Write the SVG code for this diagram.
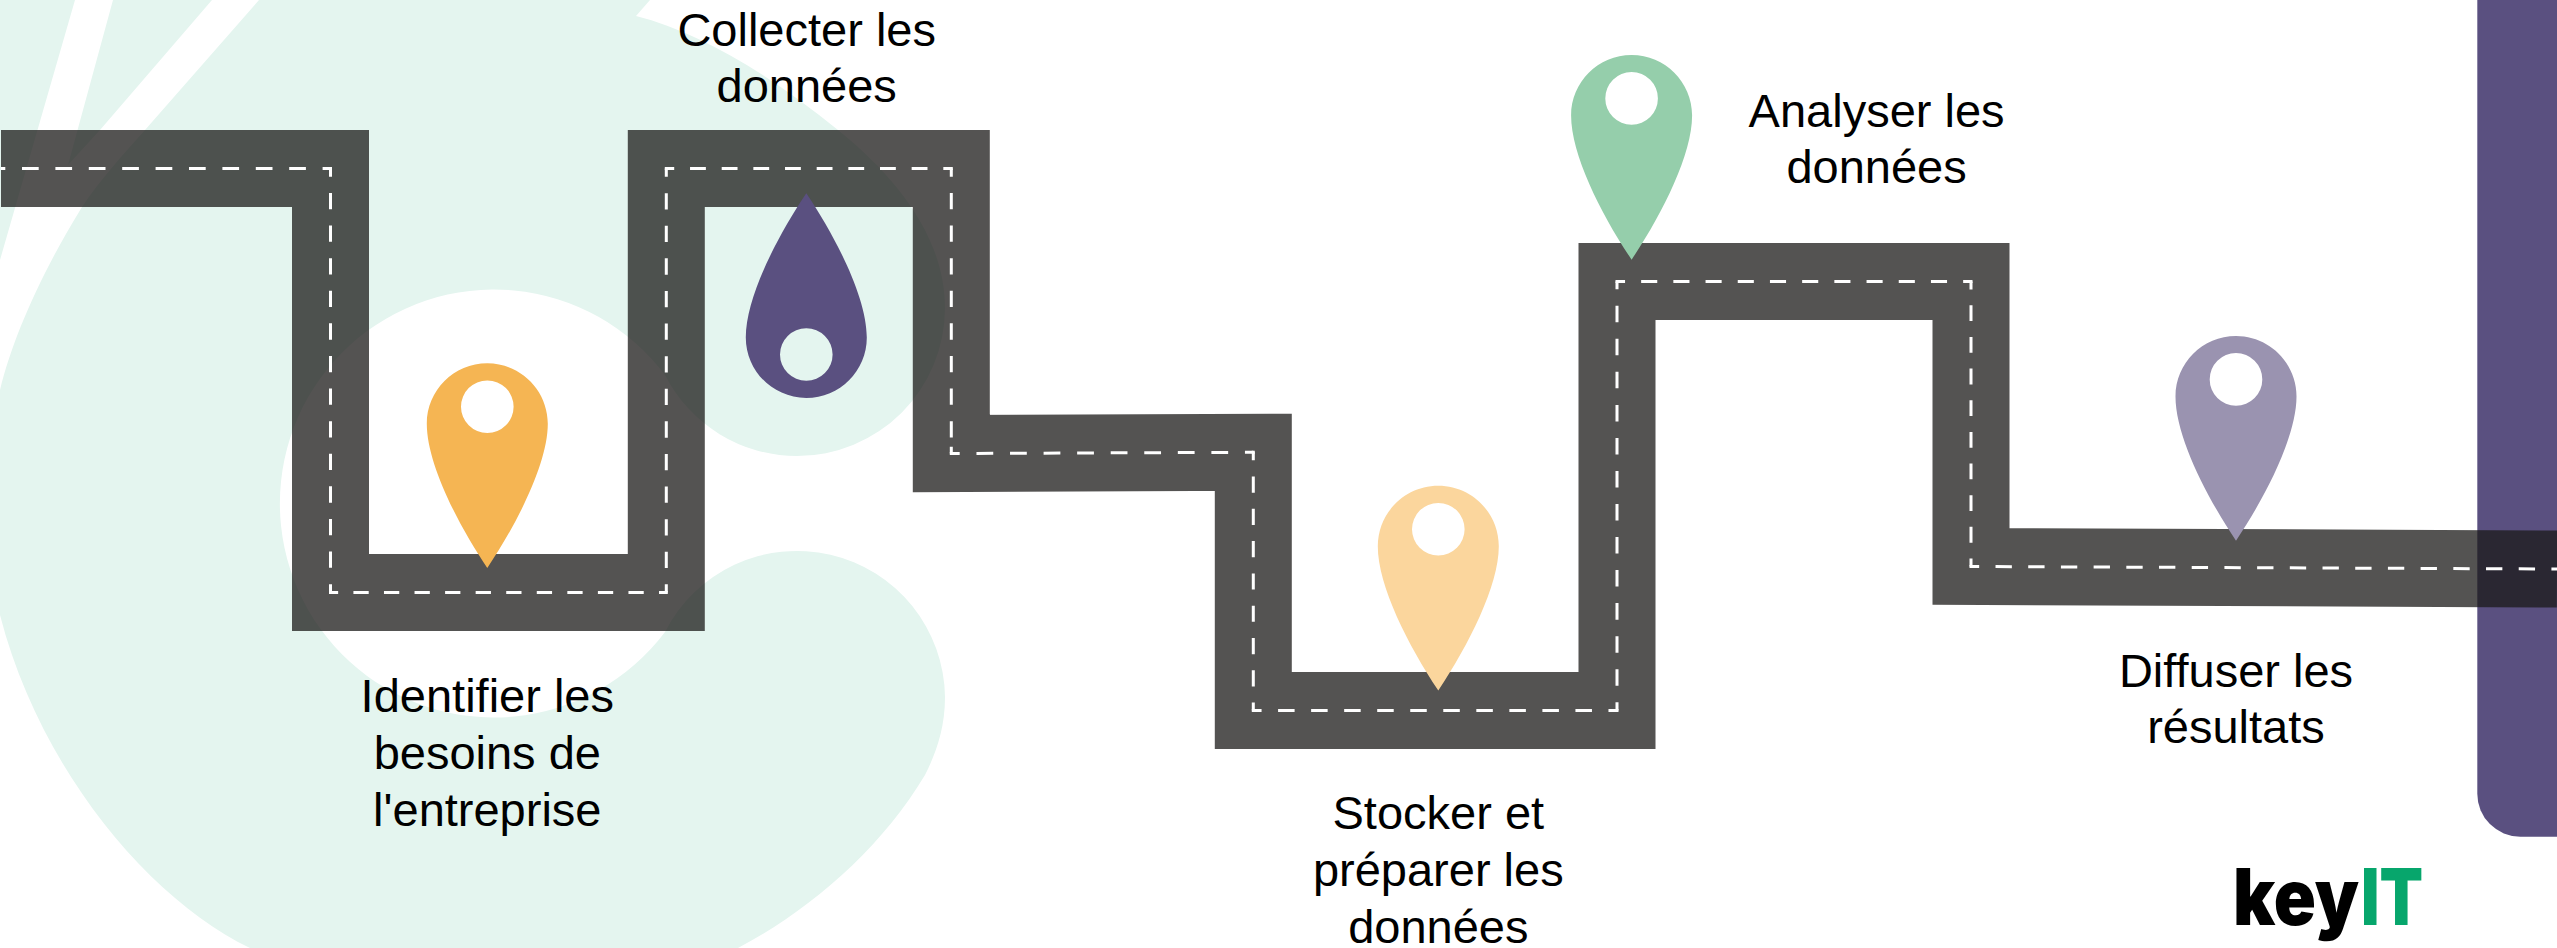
<svg xmlns="http://www.w3.org/2000/svg" xmlns:xlink="http://www.w3.org/1999/xlink" width="2557" height="948" viewBox="0 0 2557 948">
<style>
text{font-family:"Liberation Sans",Arial,sans-serif;font-size:47px;fill:#000;text-anchor:middle}
.road{fill:none;stroke:#1b1a18;stroke-opacity:.75;stroke-width:77;stroke-linejoin:miter}
.dash{fill:none;stroke:#fff;stroke-width:3}
text.logo{font-family:Inter,"Liberation Sans",sans-serif;font-weight:900;font-size:78px;text-anchor:start}
</style>
<defs>
<path id="pin" fill-rule="evenodd" d="M0 0C33.4 0 60.5 27.1 60.5 60.5C60.5 100 30 160 0 204.7C-30 160 -60.5 100 -60.5 60.5C-60.5 27.1 -33.4 0 0 0ZM0 17.1A26.3 26.3 0 1 0 0 69.7A26.3 26.3 0 1 0 0 17.1Z"/>
</defs>
<rect width="2557" height="948" fill="#fff"/>
<g id="background">
<path fill="#e4f5ef" d="M0 0H75L0 260ZM113 0H212L100 130L68 165ZM259 0H650L636 16C700 32 770 75 838 130C900 180 945 240 945 308A148 148 0 0 1 797 456A148 148 0 0 1 665 375A214 214 0 1 0 665 632A148 148 0 0 1 945 697C945 730 935 755 925 775C880 850 810 910 738 948H250C150 900 40 770 0 615V390C12 340 40 275 82 207C100 180 120 158 145 130Z"/>
<rect x="2477.3" y="-60" width="200" height="896.7" rx="43" fill="#5a5080"/>
</g>
<g id="connectors">
<path class="road" d="M1 168.5H330.5V592.5H666.3V168.5H951.3V453.5L1253.3 452.3V710.5H1617V281.5H1971V566.5L2557 569"/>
<path class="dash" stroke-dasharray="16.7 16.7" stroke-dashoffset="12.4" d="M1 168.5H330.5"/>
<path class="dash" stroke-dasharray="16.3 16.3" stroke-dashoffset="8.15" d="M330.5 168.5V592.5"/>
<path class="dash" stroke-dasharray="15.28 15.28" stroke-dashoffset="7.64" d="M330.5 592.5H666.3"/>
<path class="dash" stroke-dasharray="16.3 16.3" stroke-dashoffset="8.15" d="M666.3 592.5V168.5"/>
<path class="dash" stroke-dasharray="15.83 15.83" stroke-dashoffset="7.92" d="M666.3 168.5H951.3"/>
<path class="dash" stroke-dasharray="16.3 16.3" stroke-dashoffset="8.15" d="M951.3 168.5V438M951.3 446.7V453.5"/>
<path class="dash" stroke-dasharray="16.78 16.78" stroke-dashoffset="8.39" d="M951.3 453.5L1253.3 452.3"/>
<path class="dash" stroke-dasharray="16.15 16.15" stroke-dashoffset="8.08" d="M1253.3 452.3V710.5"/>
<path class="dash" stroke-dasharray="16.52 16.52" stroke-dashoffset="8.26" d="M1253.3 710.5H1617"/>
<path class="dash" stroke-dasharray="16.52 16.52" stroke-dashoffset="8.26" d="M1617 710.5V281.5"/>
<path class="dash" stroke-dasharray="16.1 16.1" stroke-dashoffset="8.05" d="M1617 281.5H1971"/>
<path class="dash" stroke-dasharray="15.83 15.83" stroke-dashoffset="7.92" d="M1971 281.5V566.5"/>
<path class="dash" stroke-dasharray="16.35 16.35" stroke-dashoffset="8.18" d="M1971 566.5L2557 569"/>
<path class="dash" d="M329 168.5h3M329 592.5h3M664.8 592.5h3M664.8 168.5h3M949.8 168.5h3M949.8 453.5h3M1251.8 452.3h3M1251.8 710.5h3M1615.5 710.5h3M1615.5 281.5h3M1969.5 281.5h3M1969.5 566.5h3"/>
</g>
<g id="step1">
<use href="#pin" x="487.3" y="363.3" fill="#f5b553"/>
<text x="487.3" y="712">Identifier les</text>
<text x="487.3" y="768.5">besoins de</text>
<text x="487.3" y="826">l'entreprise</text>
</g>
<g id="step2">
<use href="#pin" transform="translate(806.3 397.9) scale(1 -1)" fill="#5a5080"/>
<text x="806.7" y="46">Collecter les</text>
<text x="806.7" y="102">données</text>
</g>
<g id="step3">
<use href="#pin" x="1438.3" y="485.8" fill="#fbd69d"/>
<text x="1438.3" y="829">Stocker et</text>
<text x="1438.3" y="886">préparer les</text>
<text x="1438.3" y="943">données</text>
</g>
<g id="step4">
<use href="#pin" x="1631.6" y="55" fill="#95ceab"/>
<text x="1876.6" y="126.7">Analyser les</text>
<text x="1876.6" y="182.7">données</text>
</g>
<g id="step5">
<use href="#pin" x="2236" y="336" fill="#9a93b0"/>
<text x="2236" y="686.7">Diffuser les</text>
<text x="2236" y="742.7">résultats</text>
</g>
<g id="logo">
<text class="logo" y="925"><tspan x="2233" textLength="126" lengthAdjust="spacingAndGlyphs">key</tspan><tspan x="2361" textLength="62" lengthAdjust="spacingAndGlyphs" fill="#07a66c">IT</tspan></text>
</g>
</svg>
